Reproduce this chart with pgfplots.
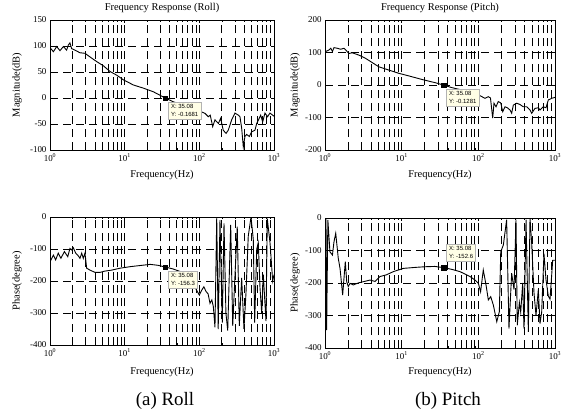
\documentclass[border=0pt]{standalone}
\usepackage{fontspec}
\setmainfont{Liberation Serif}
\newfontfamily\tipfont{Liberation Sans}
\usepackage{pgfplots}
\pgfplotsset{compat=1.18}

\pgfplotsset{
  every axis/.append style={
    scale only axis, xmin=1, xmax=1000,
    xtick={1,10,100,1000},
    xticklabels={10\textsuperscript{0},10\textsuperscript{1},10\textsuperscript{2},10\textsuperscript{3}},
    minor xtick={2,3,4,5,6,7,8,9,20,30,40,50,60,70,80,90,200,300,400,500,600,700,800,900},
    grid=both,
    major grid style={black, line width=0.75bp, dash pattern=on 8bp off 5bp},
    minor grid style={black, line width=0.75bp, dash pattern=on 8bp off 5bp},
    axis line style={line width=0.8bp},
    tick align=inside, major tick length=3bp, minor tick length=2bp,
    tick style={black, line width=0.6bp},
    tick label style={font=\fontsize{9}{10}\selectfont},
    label style={font=\fontsize{10.5}{12}\selectfont},
    title style={font=\fontsize{10.5}{12}\selectfont, at={(0.5,1)}, anchor=south, yshift=-2bp},
    xlabel={Frequency(Hz)},
  },
  bodecurve/.style={black, line width=0.9bp, no marks},
  bodemark/.style={only marks, mark=square*, mark size=2.3bp, mark options={black, fill=black}},
}
\tikzset{datatip/.style={font=\tipfont\fontsize{6}{8}\selectfont, align=left, fill=yellow!10, draw=gray!60, line width=0.4bp, inner sep=2.5bp}}

\begin{document}
\begin{tikzpicture}
\useasboundingbox (0,0) rectangle (564bp,-419bp);

% Roll magnitude
\begin{semilogxaxis}[at={(50bp,-150bp)}, anchor=south west, width=224bp, height=130bp,
  yticklabel style={/pgf/number format/assume math mode=true},
  ymin=-100, ymax=150, ytick={-100,-50,0,50,100,150},
  title={Frequency Response (Roll)}, ylabel={Magnitude(dB)},
  xlabel style={at={(rel axis cs:0.5,-0.192)}, anchor=center},
  ylabel style={at={(rel axis cs:-0.147,0.5)}, anchor=center}]
\addplot[bodecurve] coordinates {
 (1.0,97) (1.11,89) (1.23,99) (1.36,91) (1.51,99) (1.67,92) (1.76,102) (1.85,106)
 (1.95,95) (2.16,92) (2.52,87) (2.94,86) (3.43,79) (4.22,70) (5.18,62) (6.36,51)
 (7.81,44) (9.60,35) (13.1,25) (17.8,19) (24.2,12) (30.0,5) (35.08,-0.1681)
 (44.4,-7) (60,-14) (80,-20) (100,-25) (119,-29.5) (132,-36) (140,-33) (151,-55)
 (162,-42) (180,-49) (193,-39) (209,-62) (228,-68) (244,-62) (271,-42) (300,-29)
 (333,-33) (350,-36) (369,-58) (388,-94) (408,-74) (430,-70) (467,-74) (502,-65)
 (556,-62) (586,-49) (620,-42) (663,-33) (705,-46) (757,-29) (820,-36) (883,-29)
 (960,-33) (1000,-35)
};
\addplot[bodemark] coordinates {(35.08,-0.1681)};
\node[datatip, anchor=north west, xshift=3bp, yshift=-4bp] at (axis cs:35.08,-0.1681) {X: 35.08\\Y: -0.1681};
\end{semilogxaxis}

% Pitch magnitude
\begin{semilogxaxis}[at={(325bp,-150bp)}, anchor=south west, width=230bp, height=130bp,
  yticklabel style={/pgf/number format/assume math mode=true},
  ymin=-200, ymax=200, ytick={-200,-100,0,100,200},
  title={Frequency Response (Pitch)}, ylabel={Magnitude(dB)},
  xlabel style={at={(rel axis cs:0.5,-0.192)}, anchor=center},
  ylabel style={at={(rel axis cs:-0.130,0.5)}, anchor=center}]
\addplot[bodecurve] coordinates {
 (1.0,100) (1.02,103) (1.13,108) (1.19,113) (1.25,103) (1.31,115) (1.45,113)
 (1.60,110) (1.77,113) (1.86,108) (2.05,97) (2.27,99) (2.77,92) (3.38,82)
 (4.13,69) (5.04,56) (6.79,46) (9.17,36) (12.4,28) (18.4,17) (27.5,7) (35.08,-0.1281)
 (45,-8) (60,-15) (80,-22) (100,-30) (122,-41) (135,-36) (144,-40) (154,-102)
 (160,-56) (170,-67) (182,-51) (196,-55) (208,-82) (223,-67) (239,-70) (259,-77)
 (272,-87) (286,-62) (316,-56) (349,-60) (386,-67) (427,-67) (472,-77) (497,-87)
 (548,-72) (606,-70) (637,-77) (703,-67) (763,-70) (818,-46) (906,-41) (1000,-38)
};
\addplot[bodemark] coordinates {(35.08,-0.1281)};
\node[datatip, anchor=north west, xshift=3bp, yshift=-4bp] at (axis cs:35.08,-0.1281) {X: 35.08\\Y: -0.1281};
\end{semilogxaxis}

% Roll phase
\begin{semilogxaxis}[at={(50bp,-345bp)}, anchor=south west, width=224bp, height=128bp,
  yticklabel style={/pgf/number format/assume math mode=true},
  ymin=-400, ymax=0, ytick={-400,-300,-200,-100,0},
  ylabel={Phase(degree)},
  xlabel style={at={(rel axis cs:0.5,-0.21)}, anchor=center},
  ylabel style={at={(rel axis cs:-0.147,0.5)}, anchor=center}]
\addplot[bodecurve] coordinates {
 (1.0,-140) (1.11,-119) (1.19,-134) (1.29,-113) (1.40,-129) (1.56,-108) (1.73,-124)
 (1.85,-98) (1.95,-103) (2.05,-96) (2.21,-113) (2.35,-119) (2.52,-129) (2.66,-113)
 (2.79,-129) (2.94,-113) (3.10,-160) (3.43,-166) (4.01,-173) (4.67,-173) (5.45,-169)
 (6.70,-166) (8.66,-160) (12,-155) (17,-151) (22,-148) (28,-151) (35.08,-156.3)
 (44,-162) (55,-170) (70,-190) (90,-225) (100,-244) (108,-228) (115,-218) (123,-233)
 (131,-240) (139,-270) (147,-259) (154,-280) (162,-345) (171,-2) (179,-350) (189,-10)
 (203,-330) (214,-20) (227,-300) (240,-355) (263,-25) (280,-340) (298,-200) (322,-30)
 (343,-340) (369,-190) (396,-350) (421,-240) (452,-60) (492,0) (528,-70) (551,-330)
 (587,-100) (616,-80) (649,-220) (684,-300) (719,-180) (781,-325) (813,-5) (884,-80)
 (960,-200) (1000,-180)
};
\addplot[bodemark] coordinates {(35.08,-156.3)};
\node[datatip, anchor=north west, xshift=3bp, yshift=-4bp] at (axis cs:35.08,-156.3) {X: 35.08\\Y: -156.3};
\end{semilogxaxis}

% Pitch phase
\begin{semilogxaxis}[at={(325bp,-348bp)}, anchor=south west, width=230bp, height=130bp,
  yticklabel style={/pgf/number format/assume math mode=true},
  ymin=-400, ymax=0, ytick={-400,-300,-200,-100,0},
  ylabel={Phase(degree)},
  xlabel style={at={(rel axis cs:0.5,-0.185)}, anchor=center},
  ylabel style={at={(rel axis cs:-0.130,0.5)}, anchor=center}]
\addplot[bodecurve] coordinates {
 (1.0,0) (1.03,-1) (1.05,-345) (1.09,-6) (1.16,-104) (1.25,-114) (1.31,-73) (1.38,-47)
 (1.49,-124) (1.57,-155) (1.70,-237) (1.84,-134) (1.92,-196) (2.01,-211) (2.12,-201)
 (2.34,-206) (2.7,-200) (3.16,-196) (3.86,-191) (4.5,-195) (5.21,-180) (6.3,-175)
 (7.79,-165) (10.5,-155) (15,-152) (20,-150) (27,-149) (35.08,-152.6) (45,-158)
 (57.6,-165) (77.9,-180) (90.4,-191) (100,-201) (107,-227) (116,-160) (126,-206)
 (135,-252) (145,-242) (157,-268) (174,-319) (188,-288) (196,-104) (212,-83) (234,-5)
 (251,-340) (272,-170) (292,-220) (310,-5) (322,-330) (343,-260) (357,-290) (379,-200)
 (394,-340) (419,-5) (449,-350) (472,0) (497,-80) (532,-230) (565,-300) (606,-220)
 (637,-325) (670,-290) (718,-110) (763,-190) (818,-240) (861,-250) (933,-130) (1000,-130)
};
\addplot[bodemark] coordinates {(35.08,-152.6)};
\node[datatip, anchor=south west, xshift=3bp, yshift=6bp] at (axis cs:35.08,-152.6) {X: 35.08\\Y: -152.6};
\end{semilogxaxis}

\node[font=\fontsize{19}{22}\selectfont] at (165bp,-401bp) {(a) Roll};
\node[font=\fontsize{19}{22}\selectfont] at (448bp,-401bp) {(b) Pitch};
\end{tikzpicture}
\end{document}
